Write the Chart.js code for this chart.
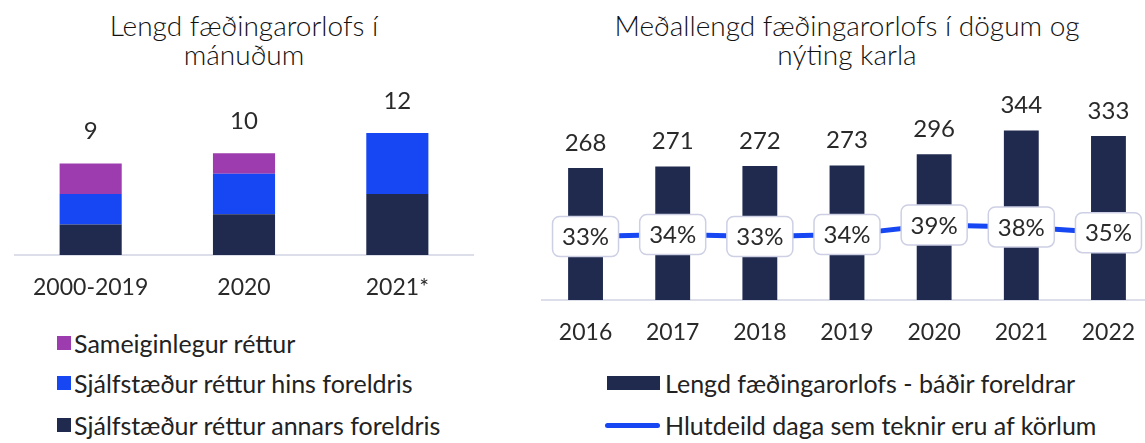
<!DOCTYPE html>
<html>
<head>
<meta charset="utf-8">
<script src="https://cdn.jsdelivr.net/npm/chart.js@4.4.1/dist/chart.umd.min.js"></script>
<style>
  body { margin: 0; width: 1145px; height: 443px; overflow: hidden; background: #fff; position: relative;
         font-family: Lato, "Noto Sans", sans-serif; color: #333; }
  .title { position: absolute; text-align: center; font-size: 28px; line-height: 29px; font-weight: 300; color: #111; white-space: nowrap; }
  canvas { position: absolute; }
  .leg { position: absolute; display: flex; align-items: center; height: 26px; font-size: 25px; line-height: 26px; white-space: nowrap; color: #222; }
  .leg span.sw { display: inline-block; flex: none; }
</style>
</head>
<body>
<div class="title" style="left:44px; top:11px; width:400px;">Lengd fæðingarorlofs í<br>mánuðum</div>
<div class="title" style="left:597px; top:11px; width:500px;">Meðallengd fæðingarorlofs í dögum og<br>nýting karla</div>

<canvas id="leftChart" style="left:14px; top:60px;" width="460" height="245"></canvas>
<canvas id="rightChart" style="left:540px; top:60px;" width="614" height="290"></canvas>

<div class="leg" style="left:57px; top:330px;"><span class="sw" style="width:14px;height:14px;margin-right:3px;background:#9c3cae"></span>Sameiginlegur réttur</div>
<div class="leg" style="left:57px; top:370px;"><span class="sw" style="width:14px;height:14px;margin-right:3px;background:#1747f2"></span>Sjálfstæður réttur hins foreldris</div>
<div class="leg" style="left:57px; top:412px;"><span class="sw" style="width:14px;height:14px;margin-right:3px;background:#1f2a4e"></span>Sjálfstæður réttur annars foreldris</div>

<div class="leg" style="left:607px; top:370px;"><span class="sw" style="width:53px;height:14px;margin-right:5px;background:#1f2a4e"></span>Lengd fæðingarorlofs - báðir foreldrar</div>
<div class="leg" style="left:605px; top:412px;"><span class="sw" style="width:55px;height:5px;margin-right:5px;border-radius:3px;background:#1747f2"></span>Hlutdeild daga sem teknir eru af körlum</div>

<script>
// left chart: months
const periods = ["2000-2019", "2020", "2021*"];
const sameiginlegur = [3, 2, 0];
const hinsForeldris = [3, 4, 6];
const annarsForeldris = [3, 4, 6];

// right chart: days and share of men
const years = ["2016", "2017", "2018", "2019", "2020", "2021", "2022"];
const lengdDagar = [268, 271, 272, 273, 296, 344, 333];
const hlutdeildKarla = [33, 34, 33, 34, 39, 38, 35];

const navy = "#1f2a4e";
const blue = "#1747f2";
const purple = "#9c3cae";
const txt = "#2a2a2a";
const fontFam = "Lato, 'Noto Sans', sans-serif";

Chart.defaults.animation = false;
Chart.defaults.font.family = fontFam;

const xAxis = (h) => ({
  grid: { display: false, drawTicks: false },
  border: { display: true, color: "#dcdfea", width: 2 },
  ticks: { color: txt, font: { size: 23 }, padding: 19 },
  afterFit: (s) => { s.height = h; }
});

// totals above the stacked bars
const totalsPlugin = {
  id: "totals",
  afterDatasetsDraw(chart) {
    const c = chart.ctx;
    const meta = chart.getDatasetMeta(0);
    c.save();
    c.fillStyle = txt;
    c.font = "24px " + fontFam;
    c.textAlign = "center";
    c.textBaseline = "middle";
    periods.forEach((p, i) => {
      const total = sameiginlegur[i] + hinsForeldris[i] + annarsForeldris[i];
      const y = chart.scales.y.getPixelForValue(total);
      c.fillText(String(total), meta.data[i].x, y - 32);
    });
    c.restore();
  }
};

new Chart(document.getElementById("leftChart"), {
  type: "bar",
  data: {
    labels: periods,
    datasets: [
      { label: "Sjálfstæður réttur annars foreldris", data: annarsForeldris, backgroundColor: navy },
      { label: "Sjálfstæður réttur hins foreldris", data: hinsForeldris, backgroundColor: blue },
      { label: "Sameiginlegur réttur", data: sameiginlegur, backgroundColor: purple }
    ]
  },
  options: {
    responsive: false,
    layout: { padding: { top: 42.5 } },
    barPercentage: 0.405,
    categoryPercentage: 1,
    plugins: { legend: { display: false }, tooltip: { enabled: false } },
    scales: {
      x: Object.assign({ stacked: true }, xAxis(50)),
      y: { stacked: true, display: false, min: 0, max: 15 }
    }
  },
  plugins: [totalsPlugin]
});

// value labels above bars + boxed percentages on the line
const rightLabels = {
  id: "rightLabels",
  afterDatasetsDraw(chart) {
    const c = chart.ctx;
    const bars = chart.getDatasetMeta(1).data;
    const pts = chart.getDatasetMeta(0).data;
    c.save();
    c.font = "24px " + fontFam;
    c.textAlign = "center";
    c.textBaseline = "middle";
    bars.forEach((b, i) => {
      c.fillStyle = txt;
      c.fillText(String(lengdDagar[i]), b.x, b.y - 25);
    });
    pts.forEach((p, i) => {
      const w = 66, h = 40;
      c.beginPath();
      c.roundRect(p.x - w / 2, p.y - h / 2, w, h, 7);
      c.fillStyle = "#fff";
      c.fill();
      c.lineWidth = 1.5;
      c.strokeStyle = "#cdd0e4";
      c.stroke();
      c.fillStyle = txt;
      c.fillText(hlutdeildKarla[i] + "%", p.x, p.y + 1);
    });
    c.restore();
  }
};

new Chart(document.getElementById("rightChart"), {
  type: "bar",
  data: {
    labels: years,
    datasets: [
      {
        type: "line", label: "Hlutdeild daga sem teknir eru af körlum", data: hlutdeildKarla,
        yAxisID: "y1", borderColor: blue, borderWidth: 5, pointRadius: 0, tension: 0, order: 0
      },
      {
        label: "Lengd fæðingarorlofs - báðir foreldrar", data: lengdDagar,
        backgroundColor: navy, yAxisID: "y", order: 1
      }
    ]
  },
  options: {
    responsive: false,
    layout: { padding: { top: 40 } },
    barPercentage: 0.4,
    categoryPercentage: 1,
    plugins: { legend: { display: false }, tooltip: { enabled: false } },
    scales: {
      x: xAxis(50),
      y: { display: false, min: 0, max: 406 },
      y1: { display: false, min: 0, max: 104 }
    }
  },
  plugins: [rightLabels]
});
</script>
</body>
</html>
